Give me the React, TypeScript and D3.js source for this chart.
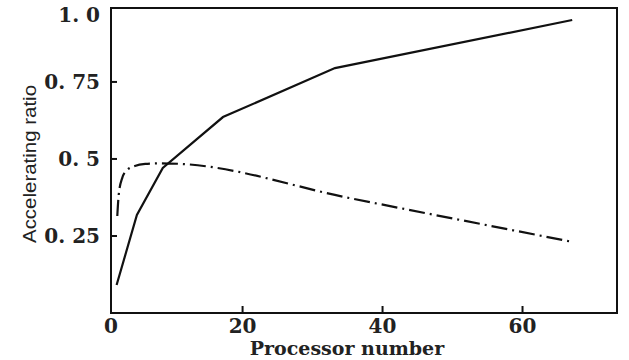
import React, { useEffect } from 'react';
import * as d3 from 'd3';

// Processor number vs accelerating ratio
const solidX = [2.0, 4.9, 8.6, 17.2, 33.2, 67.1];
const solidY = [0.091, 0.318, 0.471, 0.636, 0.795, 0.951];

const dashX = [2.1, 2.3, 2.8, 3.5, 4.6, 6.1, 8.2, 11.1, 35.3, 67.1];
const dashY = [0.315, 0.383, 0.438, 0.464, 0.477, 0.484, 0.486, 0.484, 0.373, 0.231];

const xTicks = [0, 20, 40, 60];
const yTicks = [0.25, 0.5, 0.75, 1.0];
const yTickLabels = ['0. 25', '0. 5', '0. 75', '1. 0'];

const W = 629;
const H = 360;
const frame = { left: 111, right: 617, top: 8, bottom: 313 };

const App = () => {
  useEffect(() => {
    document.body.style.margin = '0';
  }, []);

  // x axis starts a little above 0; frame ends past 70
  const x = d3.scaleLinear().domain([1.2, 73.5]).range([frame.left, frame.right]);
  const y = d3.scaleLinear().domain([0, 0.99]).range([frame.bottom, frame.top]);

  const solidLine = d3
    .line<number>()
    .x((d) => x(d))
    .y((d, i) => y(solidY[i]));

  const dashLine = d3
    .line<number>()
    .x((d) => x(d))
    .y((d, i) => y(dashY[i]))
    .curve(d3.curveMonotoneX);

  const serif = "'DejaVu Serif', serif";

  return (
    <svg width={W} height={H} style={{ display: 'block', background: '#fff' }}>
      {/* frame */}
      <rect
        x={frame.left}
        y={frame.top}
        width={frame.right - frame.left}
        height={frame.bottom - frame.top}
        fill="none"
        stroke="#111"
        strokeWidth={2}
      />

      {/* y ticks */}
      {yTicks.map((t, i) => (
        <g key={t}>
          {t < 0.99 && (
            <line x1={frame.left} x2={frame.left + 6} y1={y(t)} y2={y(t)} stroke="#111" strokeWidth={2} />
          )}
          <text
            x={frame.left - 11}
            y={t < 0.99 ? y(t) : frame.top + 7}
            dy="0.36em"
            textAnchor="end"
            fontFamily={serif}
            fontWeight="bold"
            fontSize={20}
            fill="#222"
          >
            {yTickLabels[i]}
          </text>
        </g>
      ))}

      {/* x ticks */}
      {xTicks.map((t) => (
        <g key={t}>
          {t > 0 && (
            <line x1={x(t)} x2={x(t)} y1={frame.bottom} y2={frame.bottom - 7} stroke="#111" strokeWidth={2} />
          )}
          <text
            x={t > 0 ? x(t) : frame.left}
            y={333}
            textAnchor="middle"
            fontFamily={serif}
            fontWeight="bold"
            fontSize={20}
            fill="#222"
          >
            {t}
          </text>
        </g>
      ))}

      {/* series */}
      <path d={solidLine(solidX) || ''} fill="none" stroke="#111" strokeWidth={2.2} />
      <path
        d={dashLine(dashX) || ''}
        fill="none"
        stroke="#111"
        strokeWidth={2.2}
        strokeDasharray="16,5,2,5"
      />

      {/* axis titles */}
      <text
        x={347}
        y={355}
        textAnchor="middle"
        fontFamily={serif}
        fontWeight="bold"
        fontSize={19}
        fill="#222"
      >
        Processor number
      </text>
      <text
        transform="translate(36,164) rotate(-90)"
        textAnchor="middle"
        fontFamily="'Liberation Sans Narrow', 'Liberation Sans', sans-serif"
        fontSize={19}
        textLength={158}
        lengthAdjust="spacingAndGlyphs"
        fill="#222"
      >
        Accelerating ratio
      </text>
    </svg>
  );
};

export default App;
